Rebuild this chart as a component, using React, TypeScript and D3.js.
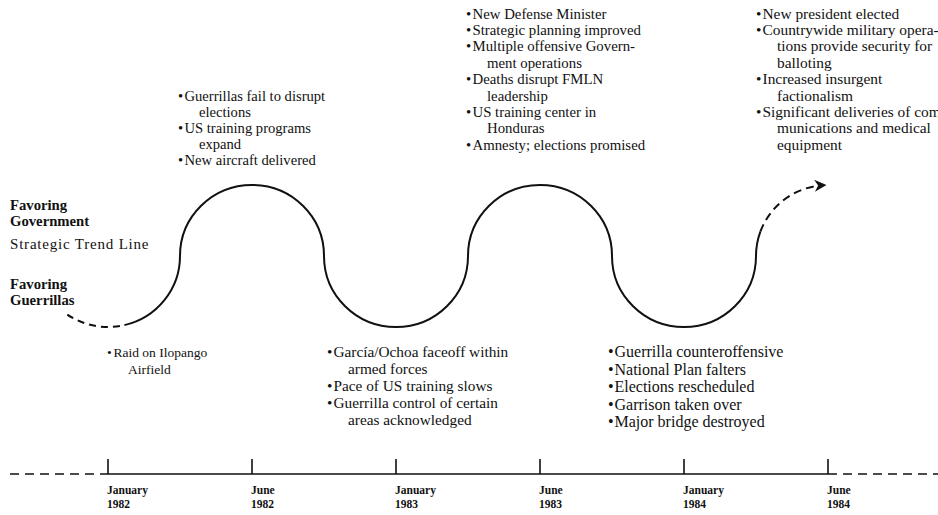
import * as d3 from "d3"

// Time points along the bottom axis
const periods = ["Jan 1982", "Jun 1982", "Jan 1983", "Jun 1983", "Jan 1984", "Jun 1984"]
const periodMonth = ["January", "June", "January", "June", "January", "June"]
const periodYear = ["1982", "1982", "1983", "1983", "1984", "1984"]

// Strategic trend: +1 favoring government, -1 favoring guerrillas
const trend = [-1, 1, -1, 1, -1, 1]

// Events at each point (each bullet may wrap over several lines)
const eventsJan82 = [["Raid on Ilopango", "Airfield"]]
const eventsJun82 = [
  ["Guerrillas fail to disrupt", "elections"],
  ["US training programs", "expand"],
  ["New aircraft delivered"],
]
const eventsJan83 = [
  ["García/Ochoa faceoff within", "armed forces"],
  ["Pace of US training slows"],
  ["Guerrilla control of certain", "areas acknowledged"],
]
const eventsJun83 = [
  ["New Defense Minister"],
  ["Strategic planning improved"],
  ["Multiple offensive Govern-", "ment operations"],
  ["Deaths disrupt FMLN", "leadership"],
  ["US training center in", "Honduras"],
  ["Amnesty; elections promised"],
]
const eventsJan84 = [
  ["Guerrilla counteroffensive"],
  ["National Plan falters"],
  ["Elections rescheduled"],
  ["Garrison taken over"],
  ["Major bridge destroyed"],
]
const eventsJun84 = [
  ["New president elected"],
  ["Countrywide military opera-", "tions provide security for", "balloting"],
  ["Increased insurgent", "factionalism"],
  ["Significant deliveries of com-", "munications and medical", "equipment"],
]
const events = [eventsJan82, eventsJun82, eventsJan83, eventsJun83, eventsJan84, eventsJun84]

const width = 938
const height = 515
const font = "'Liberation Serif', 'Times New Roman', serif"
const ink = "#111"

// layout of the event blocks: offset from tick, first baseline, font size, line height
const blockDx = [-1, -74, -69, -74, -76, -72]
const blockTop = [357, 101, 357, 18.5, 357, 18.5]
const blockFont = [13.5, 14.6, 15.3, 14.8, 16, 15.4]
const blockLine = [16.5, 16, 17, 16.4, 17.5, 16.4]

export default function App() {
  const x = d3.scalePoint<string>().domain(periods).range([108, 828])
  const y = d3.scaleLinear().domain([-1, 1]).range([327, 185])
  const rx = x.step() / 2
  const ry = y(0) - y(1)
  const mid = y(0)

  // point on the half-ellipse around period i, t from 0 (left) to PI (right)
  const pt = (i: number, t: number): [number, number] => {
    const cx = x(periods[i]) as number
    const s = trend[i] > 0 ? 1 : -1
    return [cx - rx * Math.cos(t), mid - s * ry * Math.sin(t)]
  }
  const arc = (i: number, t0: number, t1: number, move: boolean) => {
    const p0 = pt(i, t0)
    const p1 = pt(i, t1)
    const sweep = trend[i] > 0 ? 1 : 0
    const large = t1 - t0 > Math.PI ? 1 : 0
    return `${move ? `M${p0[0]},${p0[1]}` : ""}A${rx},${ry} 0 ${large} ${sweep} ${p1[0]},${p1[1]}`
  }

  const n = periods.length
  const tStart = 0.97
  const tDashEnd = 1.8
  const tSolidEnd = 0.35
  const tArrow = 1.5

  const dashedStart = arc(0, tStart, tDashEnd, true)
  let solid = arc(0, tDashEnd, Math.PI, true)
  for (let i = 1; i < n - 1; i++) solid += arc(i, 0, Math.PI, false)
  solid += arc(n - 1, 0, tSolidEnd, false)
  const dashedEnd = arc(n - 1, tSolidEnd, tArrow, true)

  const axisY = 474
  const x0 = x(periods[0]) as number
  const x1 = x(periods[n - 1]) as number

  return (
    <svg
      width={width}
      height={height}
      style={{ position: "absolute", left: 0, top: 0, background: "#fff" }}
      fontFamily={font}
    >
      <defs>
        <marker id="arrow" viewBox="0 0 10 10" refX="7" refY="5" markerWidth="6" markerHeight="6" orient="auto">
          <path d="M0,0L10,5L0,10L3,5Z" fill={ink} />
        </marker>
      </defs>

      {/* side labels */}
      <g fill={ink}>
        <text x={10} y={210} fontSize={14.7} fontWeight="bold">Favoring</text>
        <text x={10} y={226} fontSize={14.7} fontWeight="bold">Government</text>
        <text x={10} y={249} fontSize={15} letterSpacing={0.8}>Strategic Trend Line</text>
        <text x={10} y={289} fontSize={14.7} fontWeight="bold">Favoring</text>
        <text x={10} y={305} fontSize={14.7} fontWeight="bold">Guerrillas</text>
      </g>

      {/* trend line */}
      <g fill="none" stroke={ink} strokeWidth={2}>
        <path d={dashedStart} strokeDasharray="7 5" />
        <path d={solid} />
        <path d={dashedEnd} strokeDasharray="8 5" markerEnd="url(#arrow)" />
      </g>

      {/* event blocks */}
      {events.map((block, i) => {
        const bx = (x(periods[i]) as number) + blockDx[i]
        let line = 0
        return (
          <g key={periods[i]} fill={ink} fontSize={blockFont[i]}>
            {block.map((item, j) =>
              item.map((txt, k) => {
                const yy = blockTop[i] + line * blockLine[i]
                line++
                return (
                  <g key={`${j}-${k}`}>
                    {k === 0 && (
                      <text x={bx} y={yy}>
                        •
                      </text>
                    )}
                    <text x={k === 0 ? bx + 6.5 : bx + 21} y={yy}>
                      {txt}
                    </text>
                  </g>
                )
              }),
            )}
          </g>
        )
      })}

      {/* time axis */}
      <g stroke={ink} strokeWidth={1.6}>
        <line x1={10} x2={x0} y1={axisY} y2={axisY} strokeDasharray="9 6" />
        <line x1={x0} x2={x1} y1={axisY} y2={axisY} />
        <line x1={x1} x2={width} y1={axisY} y2={axisY} strokeDasharray="9 6" />
        {periods.map((p) => (
          <line key={p} x1={x(p)} x2={x(p)} y1={axisY - 15} y2={axisY} />
        ))}
      </g>
      <g fill={ink} fontSize={11.5} fontWeight="bold">
        {periods.map((p, i) => (
          <g key={p}>
            <text x={(x(p) as number) - 1} y={494}>
              {periodMonth[i]}
            </text>
            <text x={(x(p) as number) - 1} y={508}>
              {periodYear[i]}
            </text>
          </g>
        ))}
      </g>
    </svg>
  )
}
